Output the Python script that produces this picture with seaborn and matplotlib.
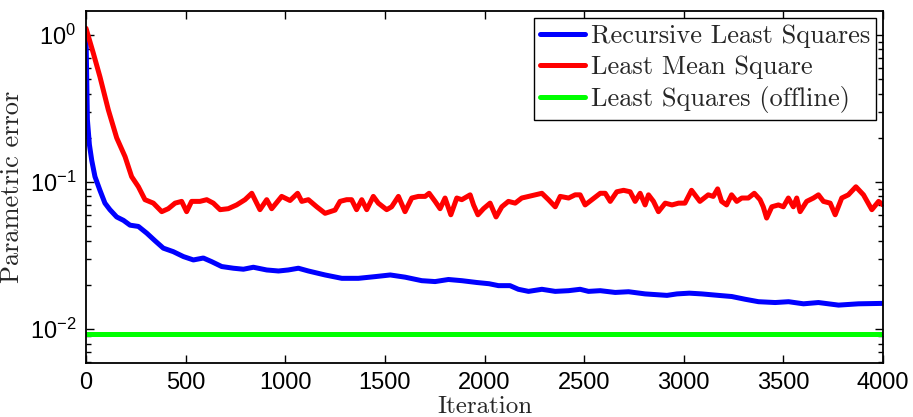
import matplotlib
matplotlib.use("Agg")
import matplotlib.pyplot as plt
from matplotlib.ticker import FixedLocator, NullFormatter, LogLocator
import numpy as np
import pandas as pd
import seaborn as sns

# ---- data ----
rls_iter = [0, 7, 17, 29, 45, 70, 95, 120, 154, 188, 221, 263, 305, 346, 388, 438, 489, 539,
            589, 631, 681, 740, 790, 840, 907, 966, 1015, 1066, 1116, 1200, 1284, 1367, 1451,
            1527, 1602, 1685, 1752, 1819, 1886, 1961, 2023, 2070, 2128, 2170, 2221, 2288, 2355,
            2422, 2480, 2522, 2581, 2656, 2723, 2806, 2916, 2966, 3028, 3090, 3174, 3241, 3308,
            3375, 3459, 3526, 3601, 3676, 3777, 3877, 4000]
rls_err = [1.0, 0.265, 0.18, 0.14, 0.109, 0.088, 0.072, 0.065, 0.058, 0.055, 0.051, 0.050, 0.045,
           0.040, 0.0356, 0.0337, 0.0312, 0.0296, 0.0305, 0.0288, 0.0267, 0.026, 0.0256, 0.0264,
           0.0253, 0.0249, 0.0253, 0.026, 0.0249, 0.0234, 0.0222, 0.0222, 0.0228, 0.0234, 0.0226,
           0.0214, 0.0211, 0.0218, 0.0214, 0.0208, 0.0204, 0.0198, 0.0198, 0.0187, 0.0181, 0.0187,
           0.0181, 0.0183, 0.0187, 0.0181, 0.0183, 0.0178, 0.018, 0.0174, 0.017, 0.0174, 0.0176,
           0.0174, 0.017, 0.0167, 0.016, 0.0154, 0.0152, 0.0154, 0.0149, 0.0152, 0.0146, 0.0149,
           0.015]

lms_iter = [0, 37, 70, 112, 154, 196, 229, 263, 296, 338, 380, 413, 447, 480, 505, 530, 572, 606,
            639, 673, 714, 756, 798, 832, 873, 907, 932, 982, 1024, 1062, 1083, 1116, 1158, 1200,
            1250, 1275, 1308, 1333, 1358, 1384, 1409, 1442, 1467, 1509, 1534, 1568, 1601, 1635,
            1668, 1702, 1722, 1752, 1777, 1802, 1831, 1861, 1886, 1928, 1945, 1967, 1995, 2028,
            2058, 2087, 2120, 2154, 2187, 2221, 2254, 2288, 2321, 2355, 2380, 2422, 2455, 2480,
            2505, 2539, 2581, 2606, 2631, 2664, 2698, 2731, 2756, 2781, 2806, 2823, 2848, 2873,
            2907, 2941, 2974, 3006, 3039, 3081, 3123, 3148, 3170, 3190, 3215, 3240, 3266, 3291,
            3324, 3354, 3383, 3399, 3416, 3442, 3475, 3500, 3525, 3550, 3567, 3584, 3617, 3651,
            3676, 3701, 3735, 3760, 3793, 3826, 3864, 3902, 3944, 3978, 4000]
lms_err = [1.11, 0.75, 0.52, 0.31, 0.20, 0.149, 0.109, 0.093, 0.076, 0.072, 0.063, 0.066, 0.072,
           0.074, 0.063, 0.074, 0.074, 0.076, 0.072, 0.065, 0.066, 0.070, 0.076, 0.084, 0.065,
           0.076, 0.066, 0.080, 0.075, 0.084, 0.074, 0.076, 0.068, 0.0614, 0.0646, 0.074, 0.076,
           0.076, 0.065, 0.076, 0.065, 0.080, 0.072, 0.065, 0.068, 0.080, 0.063, 0.078, 0.080,
           0.080, 0.084, 0.074, 0.066, 0.078, 0.060, 0.078, 0.076, 0.082, 0.070, 0.060, 0.066,
           0.072, 0.058, 0.068, 0.074, 0.072, 0.078, 0.080, 0.082, 0.084, 0.076, 0.068, 0.080,
           0.078, 0.082, 0.082, 0.070, 0.076, 0.084, 0.084, 0.074, 0.086, 0.088, 0.086, 0.074,
           0.084, 0.070, 0.082, 0.074, 0.063, 0.072, 0.070, 0.072, 0.072, 0.088, 0.074, 0.082,
           0.080, 0.090, 0.074, 0.070, 0.082, 0.074, 0.078, 0.078, 0.084, 0.076, 0.068, 0.057,
           0.068, 0.070, 0.068, 0.078, 0.068, 0.078, 0.063, 0.074, 0.078, 0.082, 0.074, 0.072,
           0.060, 0.078, 0.082, 0.093, 0.082, 0.065, 0.074, 0.070]

ls_iter = [0, 4000]
ls_err = [0.0093, 0.0093]

series_names = ["Recursive Least Squares", "Least Mean Square", "Least Squares (offline)"]
series_colors = ["#0000ff", "#ff0000", "#00ff00"]

df = pd.concat([
    pd.DataFrame({"Iteration": rls_iter, "err": rls_err, "method": series_names[0]}),
    pd.DataFrame({"Iteration": lms_iter, "err": lms_err, "method": series_names[1]}),
    pd.DataFrame({"Iteration": ls_iter, "err": ls_err, "method": series_names[2]}),
], ignore_index=True)

sns.set_style("ticks")
plt.rcParams["font.family"] = ["Liberation Sans", "DejaVu Sans"]
plt.rcParams["mathtext.fontset"] = "custom"
plt.rcParams["mathtext.rm"] = "Liberation Sans"
plt.rcParams["mathtext.it"] = "Liberation Sans:italic"
plt.rcParams["mathtext.bf"] = "Liberation Sans:bold"
plt.rcParams["axes.unicode_minus"] = True

fig = plt.figure(figsize=(9.13, 4.17), dpi=100)
ax = fig.add_axes([86 / 913, 1 - 362.7 / 417, (883 - 86) / 913, (362.7 - 11) / 417])

sns.lineplot(data=df, x="Iteration", y="err", hue="method",
             palette=dict(zip(series_names, series_colors)), hue_order=series_names,
             linewidth=3.6, estimator=None, ax=ax)

ax.set_yscale("log")
ax.set_xlim(0, 4000)
ax.set_ylim(10 ** -2.227, 10 ** 0.163)
ax.set_xticks(np.arange(0, 4001, 500))
ax.yaxis.set_major_locator(LogLocator(base=10, numticks=10))
minor_pos = [k * 10.0 ** d for d in range(-3, 1) for k in range(2, 10)]
ax.yaxis.set_minor_locator(FixedLocator(minor_pos))
ax.yaxis.set_minor_formatter(NullFormatter())

for s in ax.spines.values():
    s.set_color("black")
    s.set_linewidth(1.3)
    s.set_visible(True)

ax.tick_params(which="both", direction="in", top=True, right=True, left=True, bottom=True,
               colors="black", labelsize=17, width=1.0)
ax.tick_params(which="major", length=6, pad=7)
ax.tick_params(axis="y", which="minor", length=3.8, width=1.0, left=True, right=True)

ax.set_xlabel("Iteration", family="cmr10", fontsize=18, labelpad=1)
ax.set_ylabel("Parametric error", family="cmr10", fontsize=19, labelpad=4)

handles, labels = ax.get_legend_handles_labels()
leg = ax.legend(handles, labels, loc="upper right", prop={"family": "cmr10", "size": 19},
                frameon=True, fancybox=False, framealpha=1, edgecolor="black",
                borderaxespad=0.25, handlelength=1.7, handletextpad=0.2,
                labelspacing=0.27, borderpad=0.25)
leg.get_frame().set_linewidth(1.0)
for h in leg.get_lines():
    h.set_linewidth(3.6)

fig.savefig("out.png", dpi=100)
